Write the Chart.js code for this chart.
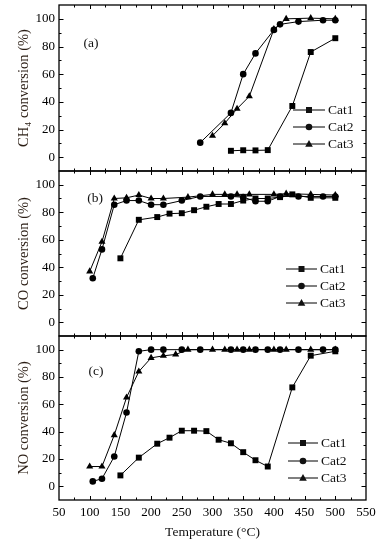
<!DOCTYPE html>
<html>
<head>
<meta charset="utf-8">
<script src="https://cdn.jsdelivr.net/npm/chart.js@4.4.1/dist/chart.umd.min.js"></script>
<style>
  body { margin: 0; background: #fff; }
  #wrap { position: relative; width: 382px; height: 543px; background: #fff; }
  canvas { position: absolute; left: 0; }
</style>
</head>
<body>
<div id="wrap">
  <canvas id="chartA" width="382" height="176" style="top:0px"></canvas>
  <canvas id="chartB" width="382" height="175" style="top:166px"></canvas>
  <canvas id="chartC" width="382" height="212" style="top:331px"></canvas>
</div>
<script>
// shared axes
const xTicks = [50, 100, 150, 200, 250, 300, 350, 400, 450, 500, 550];
const yTicks = [0, 20, 40, 60, 80, 100];
const seriesNames = ['Cat1', 'Cat2', 'Cat3'];

// (a) CH4 conversion
const aCat1T = [330, 350, 370, 390, 430, 460, 500];
const aCat1V = [4.6, 5, 4.9, 5.1, 37, 76, 86];
const aCat2T = [280, 330, 350, 370, 400, 410, 440, 480, 500];
const aCat2V = [10.5, 32, 60, 75, 92, 96, 98, 99, 99];
const aCat3T = [300, 320, 340, 360, 400, 420, 460, 500];
const aCat3V = [15.5, 24.5, 35, 44, 92.5, 100, 100.5, 100];

// (b) CO conversion
const bCat1T = [150, 180, 210, 230, 250, 270, 290, 310, 330, 350, 370, 390, 410, 430, 460, 500];
const bCat1V = [46.5, 74.5, 76.5, 79, 79.3, 81.5, 84, 86, 86, 88.5, 90, 90, 91, 93, 90.5, 90.5];
const bCat2T = [105, 120, 140, 160, 180, 200, 220, 250, 280, 330, 350, 370, 390, 410, 440, 480, 500];
const bCat2V = [32, 53, 85.5, 88.5, 88.5, 85.5, 85.5, 88.5, 91.5, 91.5, 91, 88, 88, 91.5, 91.5, 91.5, 91.5];
const bCat3T = [100, 120, 140, 160, 180, 200, 220, 260, 300, 320, 340, 360, 400, 420, 460, 500];
const bCat3V = [37, 58.5, 90, 90.5, 92.5, 90, 90, 91, 93, 93, 93, 93, 93, 93.5, 93, 92.5];

// (c) NO conversion
const cCat1T = [150, 180, 210, 230, 250, 270, 290, 310, 330, 350, 370, 390, 430, 460, 500];
const cCat1V = [8, 21, 31.2, 35.6, 40.7, 40.7, 40.4, 34.1, 31.5, 25, 19.1, 14.5, 72.4, 95.6, 98.8];
const cCat2T = [105, 120, 140, 160, 180, 200, 220, 250, 280, 330, 350, 370, 390, 410, 440, 480, 500];
const cCat2V = [3.6, 5.6, 21.8, 54, 98.8, 100, 100, 100, 100, 100, 100, 100, 100, 100, 100, 100, 100];
const cCat3T = [100, 120, 140, 160, 180, 200, 220, 240, 260, 300, 320, 340, 360, 400, 420, 460, 500];
const cCat3V = [14.5, 14.5, 37.5, 65, 84, 94, 95.5, 96.5, 100, 100, 100, 100, 100, 100, 100, 100, 100];

const FONT = "'Liberation Serif', 'DejaVu Serif', serif";
const styles = ['rect', 'circle', 'triangle'];
const radii = [4.2, 3.3, 4.1];

function pairs(t, v) {
  return t.map((x, i) => ({ x: x, y: v[i] }));
}

function marker(ctx, style, x, y) {
  ctx.beginPath();
  if (style === 'rect') {
    ctx.rect(x - 3, y - 3, 6, 6);
  } else if (style === 'circle') {
    ctx.arc(x, y, 3.3, 0, Math.PI * 2);
  } else {
    ctx.moveTo(x, y - 4);
    ctx.lineTo(x + 3.8, y + 2.8);
    ctx.lineTo(x - 3.8, y + 2.8);
    ctx.closePath();
  }
  ctx.fill();
}

// frame, inward ticks, panel letter and legend
const deco = {
  id: 'deco',
  afterDraw(chart, args, opts) {
    const { ctx, chartArea: a } = chart;
    const x = chart.scales.x, y = chart.scales.y;
    ctx.save();
    ctx.strokeStyle = '#000';
    ctx.lineWidth = 1;
    ctx.beginPath();
    for (let v = 75; v < 550; v += 25) {
      const px = Math.round(x.getPixelForValue(v)) + 0.5;
      const len = v % 50 === 0 ? 4 : 2.5;
      ctx.moveTo(px, a.bottom); ctx.lineTo(px, a.bottom - len);
      ctx.moveTo(px, a.top); ctx.lineTo(px, a.top + len);
    }
    for (let v = 0; v <= 100; v += 10) {
      const py = Math.round(y.getPixelForValue(v)) + 0.5;
      const len = v % 20 === 0 ? 4.5 : 2.5;
      ctx.moveTo(a.left, py); ctx.lineTo(a.left + len, py);
      ctx.moveTo(a.right, py); ctx.lineTo(a.right - len, py);
    }
    ctx.stroke();
    ctx.lineWidth = 1.3;
    ctx.strokeRect(a.left, a.top, a.right - a.left, a.bottom - a.top);

    ctx.fillStyle = '#111';
    ctx.font = '13.5px ' + FONT;
    ctx.textBaseline = 'middle';
    ctx.textAlign = 'center';
    ctx.fillText(opts.label, opts.labelX, opts.labelY);

    ctx.textAlign = 'left';
    opts.legendY.forEach((ly, i) => {
      ctx.lineWidth = 1;
      ctx.beginPath();
      ctx.moveTo(opts.legendX1, ly);
      ctx.lineTo(opts.legendX2, ly);
      ctx.stroke();
      marker(ctx, styles[i], (opts.legendX1 + opts.legendX2) / 2, ly);
      ctx.fillText(seriesNames[i], opts.legendX2 + 3, ly + 0.5);
    });
    ctx.restore();
  }
};

function makeChart(id, title, sets, showX, pad, decoOpts) {
  return new Chart(document.getElementById(id), {
    type: 'line',
    data: {
      datasets: sets.map((s, i) => ({
        label: seriesNames[i],
        data: pairs(s[0], s[1]),
        borderColor: '#000',
        backgroundColor: '#000',
        borderWidth: 1,
        pointStyle: styles[i],
        pointRadius: radii[i],
        pointBorderWidth: 0,
        tension: 0
      }))
    },
    options: {
      responsive: false,
      animation: false,
      layout: { padding: pad },
      plugins: { legend: { display: false }, tooltip: { enabled: false }, deco: decoOpts },
      scales: {
        x: {
          type: 'linear', min: 50, max: 550,
          display: showX,
          afterBuildTicks: s => { s.ticks = xTicks.map(v => ({ value: v })); },
          afterFit: s => {
            s.height = showX ? 43 : 0;
            s.paddingLeft = 0; s.paddingRight = 0;
          },
          grid: { display: false, drawTicks: false },
          border: { display: false },
          ticks: { color: '#000', padding: 5, maxRotation: 0, font: { family: FONT, size: 13 } },
          title: { display: true, text: 'Temperature (°C)', color: '#111', padding: { top: 2, bottom: 2 }, font: { family: FONT, size: 13.5 } }
        },
        y: {
          min: -10, max: 110,
          afterBuildTicks: s => { s.ticks = yTicks.map(v => ({ value: v })); },
          afterFit: s => {
            s.width = 59;
            s.paddingTop = 0; s.paddingBottom = 0;
          },
          grid: { display: false, drawTicks: false },
          border: { display: false },
          ticks: { color: '#000', padding: 4, font: { family: FONT, size: 13 } },
          title: { display: true, text: title, color: '#2a1d14', padding: { top: 15, bottom: 15 }, font: { family: FONT, size: 14.5 } }
        }
      }
    },
    plugins: [deco]
  });
}

makeChart('chartA', 'CH\u2084 conversion (%)',
  [[aCat1T, aCat1V], [aCat2T, aCat2V], [aCat3T, aCat3V]], false,
  { top: 5, bottom: 5, left: 0, right: 16 },
  { label: '(a)', labelX: 91, labelY: 43, legendX1: 293, legendX2: 325, legendY: [110, 127, 144] });

makeChart('chartB', 'CO conversion (%)',
  [[bCat1T, bCat1V], [bCat2T, bCat2V], [bCat3T, bCat3V]], false,
  { top: 5, bottom: 5, left: 0, right: 16 },
  { label: '(b)', labelX: 95, labelY: 32, legendX1: 286, legendX2: 317, legendY: [103, 120, 137] });

makeChart('chartC', 'NO conversion (%)',
  [[cCat1T, cCat1V], [cCat2T, cCat2V], [cCat3T, cCat3V]], true,
  { top: 5, bottom: 0, left: 0, right: 16 },
  { label: '(c)', labelX: 96, labelY: 40, legendX1: 288, legendX2: 318, legendY: [112, 130, 147] });
</script>
</body>
</html>
